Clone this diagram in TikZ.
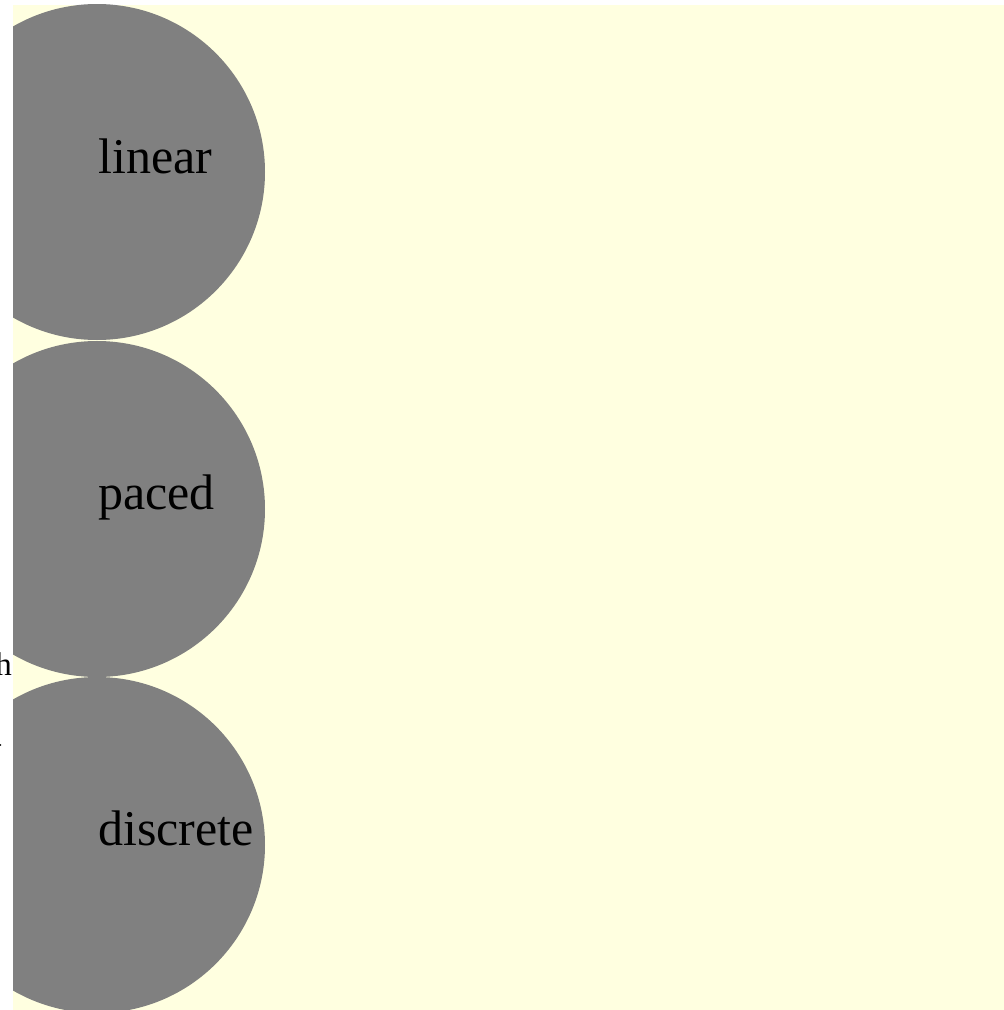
\documentclass[tikz,border=0pt]{standalone}
\usepackage{fontspec}
\setmainfont{Liberation Serif}
\begin{document}
\begin{tikzpicture}[x=1pt,y=-1pt,
  bubble/.style={circle,fill=black!50,minimum size=336pt,inner sep=0pt},
  bubbletext/.style={anchor=base west,inner sep=0pt,font=\fontsize{50}{60}\selectfont},
  smalltext/.style={inner sep=0pt,font=\fontsize{33}{40}\selectfont}]
\useasboundingbox (0,0) rectangle (1004,1010);
\fill[white] (0,0) rectangle (1004,1010);
\fill[fill={rgb,255:red,255;green,255;blue,224}] (13,5) rectangle (1004,1010);
% three bubbles, clipped at the left margin
\begin{scope}
  \clip (13,0) rectangle (1004,1010);
  \node[bubble] (c1) at (97,172) {};
  \node[bubble] (c2) at (97,509) {};
  \node[bubble] (c3) at (97,845) {};
\end{scope}
\node[bubbletext] (t1) at (98,173) {linear};
\node[bubbletext] (t2) at (98,509) {paced};
\node[bubbletext] (t3) at (98,845) {discrete};
\node[smalltext,anchor=base east] (h) at (12,675) {h};
\fill (0.5,745) circle (0.8) coordinate (dot);
\end{tikzpicture}
\end{document}
